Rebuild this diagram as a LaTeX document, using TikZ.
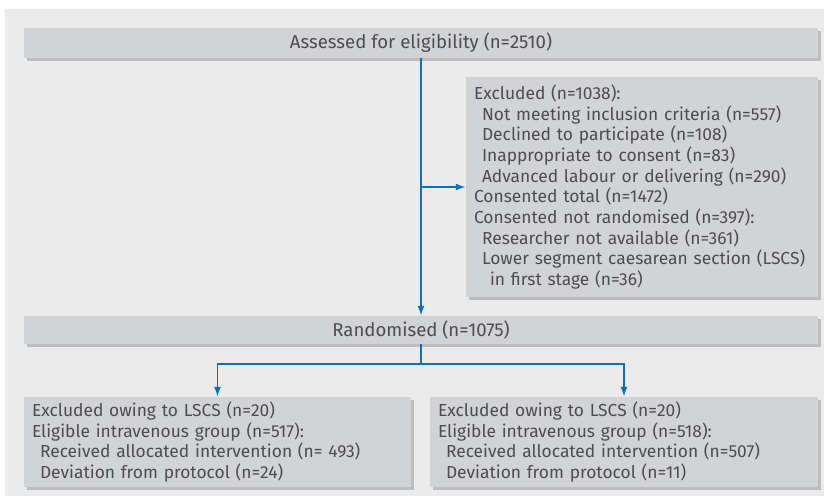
\documentclass[tikz,border=0pt]{standalone}
\usepackage{fontspec}
\setmainfont{Fira Sans}
\usetikzlibrary{positioning}
\usetikzlibrary{shadows}
\usetikzlibrary{arrows.meta}
\definecolor{panelgrey}{HTML}{EBEBEB}
\definecolor{boxgrey}{HTML}{D2D3D5}
\definecolor{boxshadow}{HTML}{BCBDBF}
\definecolor{textgrey}{HTML}{4D4D4F}
\definecolor{flowblue}{HTML}{0A6FBD}

\begin{document}
\begin{tikzpicture}[x=1pt,y=-1pt,font=\fontsize{17.4}{20.7}\selectfont]
	\tikzstyle{arrow}=[draw, flowblue, line width=1.8pt, -{Latex[length=10pt,width=7pt]}]
	\tikzstyle{line}=[draw, flowblue, line width=1.8pt]
	\tikzstyle{box}=[rectangle, fill=boxgrey, text=textgrey, inner xsep=8pt, inner ysep=0pt,
		drop shadow={shadow xshift=3pt, shadow yshift=-3pt, fill=boxshadow, opacity=1}]
	\tikzstyle{widebox}=[box, minimum width=794pt, font=\fontsize{18.6}{22}\selectfont]
	\useasboundingbox (0,0) rectangle (824,496);
	\fill[panelgrey] (5,9) rectangle (824,496);

	\node[widebox, minimum height=30pt] at (421, 43) (assessed) {Assessed for eligibility (n=2510)};

	\node[box, text width=336pt, minimum height=220pt, align=left] at (642, 187) (excluded) {Excluded (n=1038):\\
		\hspace*{8pt}Not meeting inclusion criteria (n=557)\\
		\hspace*{8pt}Declined to participate (n=108)\\
		\hspace*{8pt}Inappropriate to consent (n=83)\\
		\hspace*{8pt}Advanced labour or delivering (n=290)\\
		Consented total (n=1472)\\
		Consented not randomised (n=397):\\
		\hspace*{8pt}Researcher not available (n=361)\\
		\hspace*{8pt}Lower segment caesarean section (LSCS)\\
		\hspace*{16pt}in first stage (n=36)};

	\node[widebox, minimum height=28pt] at (421, 330) (randomised) {Randomised (n=1075)};
	\path[arrow] (assessed.south) -- (randomised.north);
	\coordinate (excludedSplit) at (assessed.south |- excluded.west);
	\path[arrow] (excludedSplit) -- (excluded.west);

	\node[box, text width=371pt, minimum height=90pt, align=left] at (217.5, 442) (leftGroup) {Excluded owing to LSCS (n=20)\\
		Eligible intravenous group (n=517):\\
		\hspace*{8pt}Received allocated intervention (n= 493)\\
		\hspace*{8pt}Deviation from protocol (n=24)};

	\node[box, text width=372pt, minimum height=90pt, align=left] at (624, 442) (rightGroup) {Excluded owing to LSCS (n=20)\\
		Eligible intravenous group (n=518):\\
		\hspace*{8pt}Received allocated intervention (n=507)\\
		\hspace*{8pt}Deviation from protocol (n=11)};

	\coordinate[below=20pt of randomised.south] (groupSplit);
	\path[line] (randomised.south) -- (groupSplit);
	\path[arrow] (groupSplit) -| (leftGroup.north);
	\path[arrow] (groupSplit) -| (rightGroup.north);
\end{tikzpicture}
\end{document}
